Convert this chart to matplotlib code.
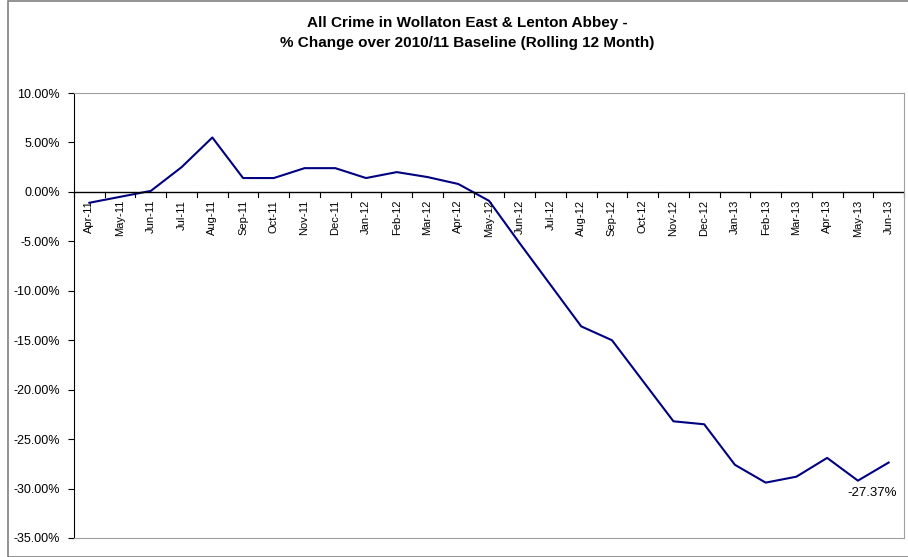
import numpy as np
import matplotlib.pyplot as plt
from matplotlib.patches import Rectangle

plt.rcParams['font.family'] = ['Liberation Sans', 'DejaVu Sans']

# mois (rolling 12 month)
months = ["Apr-11", "May-11", "Jun-11", "Jul-11", "Aug-11", "Sep-11", "Oct-11",
          "Nov-11", "Dec-11", "Jan-12", "Feb-12", "Mar-12", "Apr-12", "May-12",
          "Jun-12", "Jul-12", "Aug-12", "Sep-12", "Oct-12", "Nov-12", "Dec-12",
          "Jan-13", "Feb-13", "Mar-13", "Apr-13", "May-13", "Jun-13"]

# % change over 2010/11 baseline
pct = [-1.1, -0.5, 0.1, 2.5, 5.5, 1.4, 1.4,
       2.4, 2.4, 1.4, 2.0, 1.5, 0.8, -0.9,
       -5.2, -9.4, -13.6, -15.0, -19.1, -23.2, -23.5,
       -27.6, -29.4, -28.8, -26.9, -29.2, -27.37]

yticks = np.arange(-35, 10.1, 5)

fig = plt.figure(figsize=(9.08, 5.57), dpi=100)
# cadre du graphique
fig.patches.append(Rectangle((8/908, 0.0), 1.0, 0.999, transform=fig.transFigure,
                             fill=False, edgecolor="#808080", linewidth=1.2))

ax = fig.add_axes([74/908, 1 - 538/557, (904 - 74)/908, (538 - 93)/557])
x = np.arange(len(months))
ax.plot(x, pct, color="#000080", linewidth=1.5)

ax.set_xlim(-0.5, len(months) - 0.5)
ax.set_ylim(-35, 10)
ax.set_yticks(yticks)
ax.set_yticklabels(["%.2f%%" % v for v in yticks], fontsize=9)
ax.tick_params(axis="y", direction="out", length=4, width=0.8, pad=6)

# axe des catégories sur y=0
ax.axhline(0, color="black", linewidth=1)
ax.set_xticks([])
for i in range(len(months) + 1):
    ax.plot([i - 0.5, i - 0.5], [0, -0.5], color="black", linewidth=0.8, clip_on=False)
for i, m in enumerate(months):
    ax.text(i, -0.8, m, rotation=90, ha="center", va="top", fontsize=8)

for s in ["top", "right", "bottom"]:
    ax.spines[s].set_color("#a0a0a0")
ax.spines["left"].set_color("black")

ax.annotate("%.2f%%" % pct[-1], (x[-1], pct[-1]), xytext=(-30, -24),
            textcoords="offset points", fontsize=9.5, annotation_clip=False)

fig.text(467/908, 1 - 23/557, "All Crime in Wollaton East & Lenton Abbey -",
         ha="center", va="center", fontsize=11, fontweight="bold")
fig.text(467/908, 1 - 43/557, "% Change over 2010/11 Baseline (Rolling 12 Month)",
         ha="center", va="center", fontsize=11, fontweight="bold")

fig.savefig("out.png", dpi=100)
